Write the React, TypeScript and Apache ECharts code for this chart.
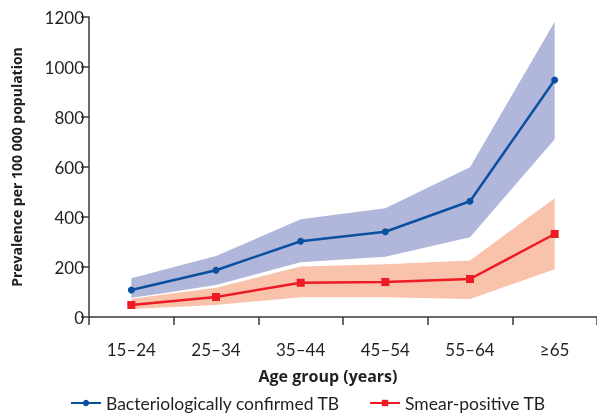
import React, { useEffect, useRef } from "react";
import * as echarts from "echarts";

// Age groups along the horizontal axis
const ageGroups = ["15–24", "25–34", "35–44", "45–54", "55–64", "≥65"];

// Bacteriologically confirmed TB: estimate and 95% interval
const bactEstimate = [108, 187, 303, 341, 463, 948];
const bactLower = [75, 128, 219, 241, 319, 711];
const bactUpper = [155, 244, 391, 435, 599, 1181];

// Smear-positive TB: estimate and 95% interval
const smearEstimate = [48, 80, 137, 140, 152, 332];
const smearLower = [32, 48, 79, 79, 72, 191];
const smearUpper = [75, 119, 204, 213, 228, 477];

const yTicks = { min: 0, max: 1200, interval: 200 };

const BLUE = "#0b4f9f";
const BLUE_BAND = "#b0b7db";
const RED = "#ed1c24";
const RED_BAND = "#f9c2ab";
const INK = "#231f20";
const FONT = "Lato, 'Open Sans', sans-serif";
const BOLD_FONT = "'Open Sans', sans-serif";

const diff = (hi: number[], lo: number[]) => hi.map((v, i) => v - lo[i]);

export default function App() {
  const ref = useRef<HTMLDivElement>(null);

  useEffect(() => {
    if (!ref.current) return;
    const chart = echarts.init(ref.current, null, { renderer: "svg" });

    const band = (name: string, stack: string, lo: number[], hi: number[], color: string) => [
      {
        name: name + " lower",
        type: "line",
        stack,
        data: lo,
        symbol: "none",
        silent: true,
        lineStyle: { opacity: 0 },
        z: 1,
      },
      {
        name: name + " band",
        type: "line",
        stack,
        data: diff(hi, lo),
        symbol: "none",
        silent: true,
        lineStyle: { width: 1, color: "#ffffff", opacity: name === "smear" ? 1 : 0 },
        areaStyle: { color, opacity: 1 },
        z: 1,
      },
    ];

    chart.setOption({
      animation: false,
      textStyle: { fontFamily: FONT, color: INK },
      grid: { left: 89, top: 17, bottom: 101, width: 511 },
      legend: {
        bottom: 1,
        left: 65,
        itemWidth: 30,
        itemHeight: 8,
        itemGap: 29,
        data: ["Bacteriologically confirmed TB", "Smear-positive TB"],
        textStyle: { fontFamily: FONT, fontSize: 17.5, color: INK },
      },
      xAxis: {
        type: "category",
        data: ageGroups,
        boundaryGap: true,
        name: "Age group (years)",
        nameLocation: "middle",
        nameGap: 51,
        nameTextStyle: {
          fontFamily: BOLD_FONT,
          fontSize: 16,
          fontWeight: "bold",
          color: INK,
          padding: [0, 30, 0, 0],
        },
        axisLine: { lineStyle: { color: "#3a3a3a", width: 1.5 } },
        axisTick: { show: true, length: 8, inside: false, lineStyle: { color: "#3a3a3a", width: 1.5 } },
        axisLabel: { fontFamily: FONT, fontSize: 17, color: INK, margin: 24 },
        splitLine: { show: false },
      },
      yAxis: {
        type: "value",
        min: yTicks.min,
        max: yTicks.max,
        interval: yTicks.interval,
        name: "Prevalence per 100 000 population",
        nameLocation: "middle",
        nameGap: 66,
        nameTextStyle: { fontFamily: BOLD_FONT, fontSize: 14, fontWeight: "bold", color: INK },
        axisLine: { show: true, lineStyle: { color: "#3a3a3a", width: 1.5 } },
        axisTick: { show: true, length: 8, lineStyle: { color: "#3a3a3a", width: 1.5 } },
        axisLabel: {
          fontFamily: FONT,
          fontSize: 17,
          color: INK,
          margin: 5,
          formatter: (v: number) => String(v),
        },
        splitLine: { show: false },
      },
      series: [
        ...band("bact", "bact", bactLower, bactUpper, BLUE_BAND),
        ...band("smear", "smear", smearLower, smearUpper, RED_BAND),
        {
          name: "Bacteriologically confirmed TB",
          type: "line",
          data: bactEstimate,
          symbol: "circle",
          symbolSize: 7,
          itemStyle: { color: BLUE },
          lineStyle: { color: BLUE, width: 2.5 },
          z: 5,
        },
        {
          name: "Smear-positive TB",
          type: "line",
          data: smearEstimate,
          symbol: "rect",
          symbolSize: 8,
          itemStyle: { color: RED },
          lineStyle: { color: RED, width: 2.5 },
          z: 5,
        },
      ],
    });

    return () => chart.dispose();
  }, []);

  return <div ref={ref} style={{ width: 597, height: 418, position: "fixed", left: 0, top: 0 }} />;
}
